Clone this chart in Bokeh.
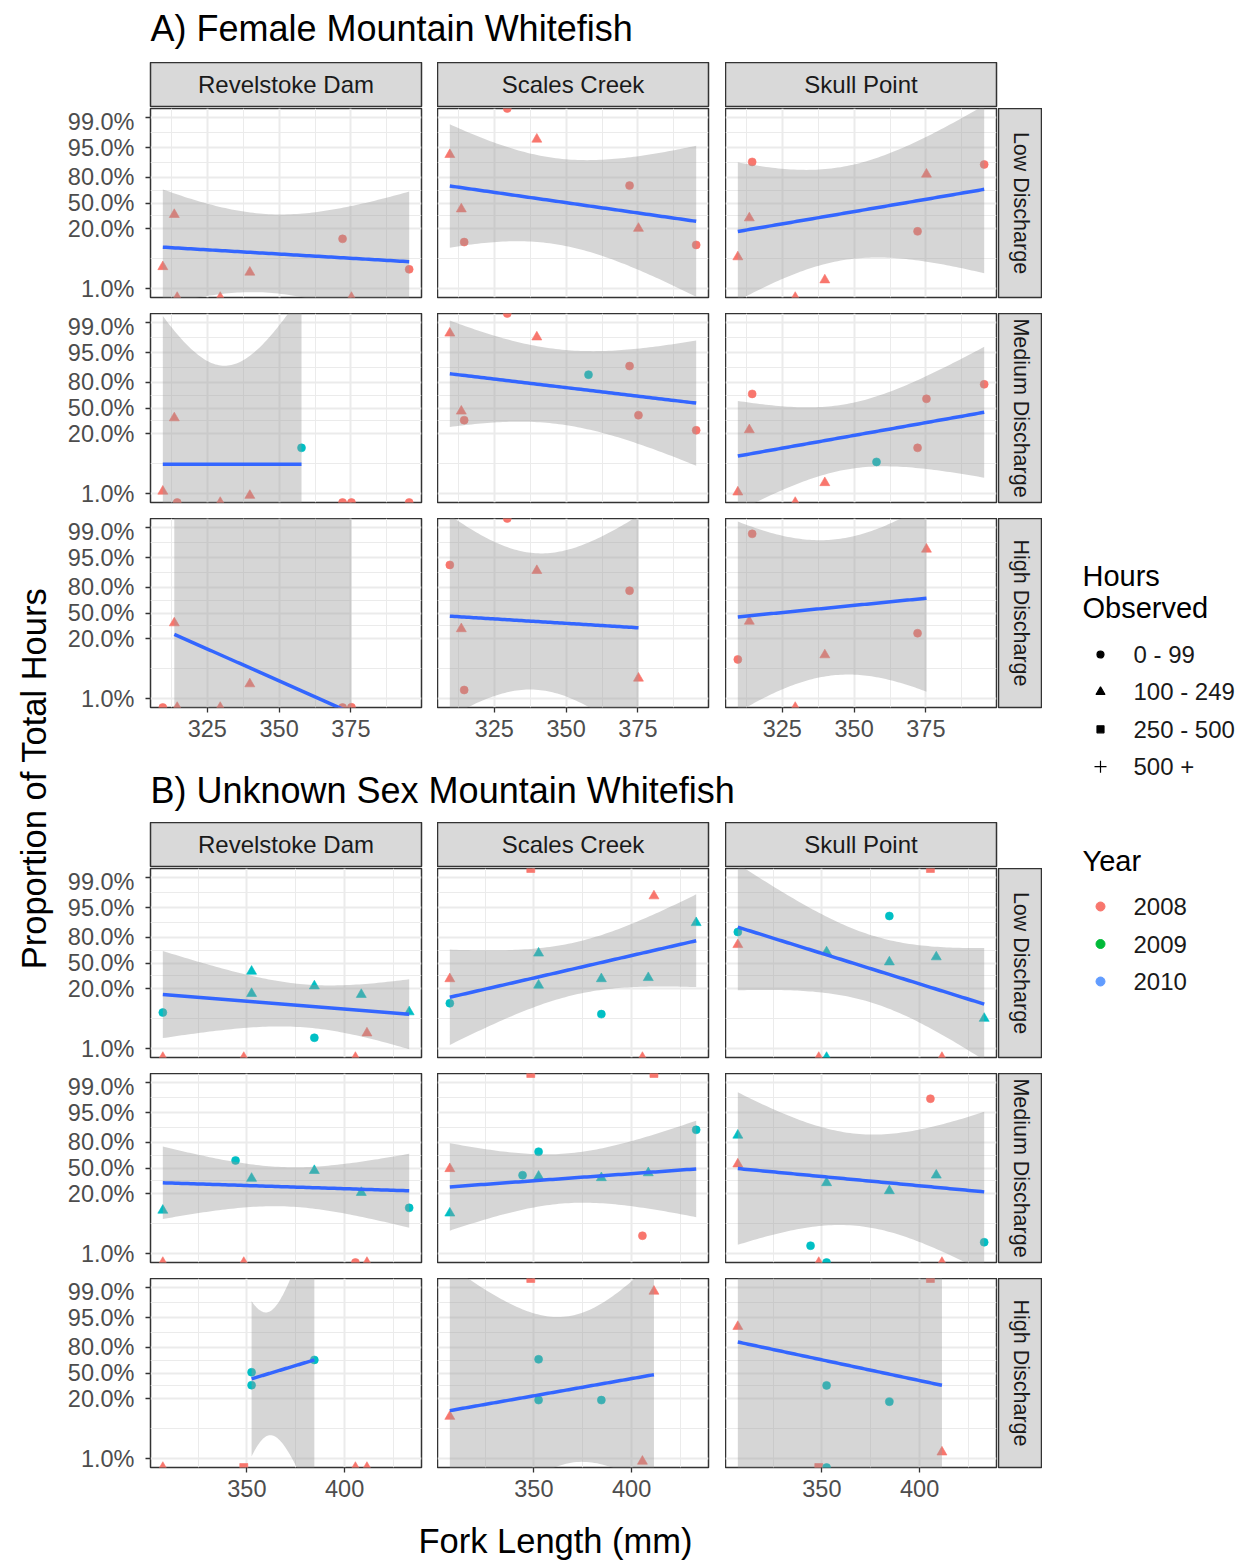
import numpy as np
from bokeh.plotting import figure
from bokeh.layouts import row, column
from bokeh.models import (Range1d, FixedTicker, Grid, LinearAxis,
                          CustomJSTickFormatter, ColumnDataSource)
from bokeh.core.properties import value
from bokeh.embed import file_html
from bokeh.resources import INLINE

FONT = "Liberation Sans"

# ---------------------------------------------------------------- labels
sites = ["Revelstoke Dam", "Scales Creek", "Skull Point"]
discharges = ["Low Discharge", "Medium Discharge", "High Discharge"]
y_breaks = [0.01, 0.20, 0.50, 0.80, 0.95, 0.99]
y_limits = [0.01, 0.99]
x_breaks_female = [325, 350, 375]
x_breaks_unknown = [350, 400]

H1, H2, H3, H4 = "0 - 99", "100 - 249", "250 - 500", "500 +"
hours_levels = [H1, H2, H3, H4]
hours_markers = ["circle", "triangle", "square", "cross"]
year_levels = ["2008", "2009", "2010"]
year_colors = ["#F8766D", "#00BA38", "#619CFF"]
Y8, Y10 = "2008", "2010"
point_colors = {"2008": "#F8766D", "2010": "#00BFC4"}

# ---------------------------------------------------------------- female fish
# fit = fitted proportion at the smallest / largest fork length,
# band = half-width of the confidence band (logit units) at start, narrowest, end
f_low_rev = dict(
    fl=[309.5, 313.5, 339.8, 372.1, 395.3, 314.5, 329.5, 375.2],
    prop=[0.032, 0.35, 0.024, 0.128, 0.028, 0.0, 0.0, 0.0],
    hours=[H2, H2, H2, H1, H1, H2, H2, H2],
    year=[Y8] * 8,
    fit=[0.086, 0.0415], band=[3.09, 2.10, 3.75])
f_low_sca = dict(
    fl=[329.5, 339.8, 309.5, 372.1, 313.5, 375.2, 314.5, 395.3],
    prop=[1.0, 0.968, 0.930, 0.717, 0.42, 0.204, 0.11, 0.096],
    hours=[H1, H2, H2, H1, H2, H2, H1, H1],
    year=[Y8] * 8,
    fit=[0.713, 0.273], band=[3.3, 2.3, 4.04])
f_low_sku = dict(
    fl=[314.5, 395.3, 375.2, 313.5, 372.1, 309.5, 339.8, 329.5],
    prop=[0.90, 0.887, 0.823, 0.31, 0.18, 0.053, 0.016, 0.0],
    hours=[H1, H1, H2, H2, H1, H2, H2, H2],
    year=[Y8] * 8,
    fit=[0.179, 0.675], band=[3.7, 2.5, 4.49])

f_med_rev = dict(
    fl=[309.5, 313.5, 357.8, 339.8, 314.5, 329.5, 372.1, 375.2, 395.3],
    prop=[0.0115, 0.37, 0.106, 0.0092, 0.0, 0.0, 0.0, 0.0, 0.0],
    hours=[H2, H2, H1, H2, H1, H2, H1, H1, H1],
    year=[Y8, Y8, Y10, Y8, Y8, Y8, Y8, Y8, Y8],
    fit=[0.047, 0.047], band=[7.93, 5.27, 9.07])
f_med_sca = dict(
    fl=[329.5, 309.5, 339.8, 372.1, 357.8, 313.5, 314.5, 375.2, 395.3],
    prop=[1.0, 0.982, 0.978, 0.904, 0.856, 0.457, 0.343, 0.405, 0.233],
    hours=[H1, H2, H2, H1, H1, H2, H1, H1, H1],
    year=[Y8, Y8, Y8, Y8, Y10, Y8, Y8, Y8, Y8],
    fit=[0.862, 0.565], band=[2.85, 2.0, 3.35])
f_med_sku = dict(
    fl=[314.5, 395.3, 375.2, 313.5, 372.1, 357.8, 339.8, 309.5, 329.5],
    prop=[0.68, 0.78, 0.62, 0.237, 0.106, 0.053, 0.018, 0.011, 0.0],
    hours=[H1, H1, H1, H2, H1, H1, H2, H2, H2],
    year=[Y8, Y8, Y8, Y8, Y8, Y10, Y8, Y8, Y8],
    fit=[0.071, 0.443], band=[2.95, 1.75, 3.5])

f_high_rev = dict(
    fl=[313.5, 339.8, 375.2, 309.5, 314.5, 329.5, 372.1],
    prop=[0.37, 0.022, 0.0064, 0.0, 0.0, 0.0, 0.0],
    hours=[H2, H2, H1, H1, H2, H2, H1],
    year=[Y8] * 7,
    fit=[0.242, 0.00473], band=[10.0, 9.0, 12.0])
f_high_sca = dict(
    fl=[329.5, 309.5, 339.8, 372.1, 313.5, 375.2, 314.5],
    prop=[1.0, 0.929, 0.906, 0.767, 0.30, 0.0296, 0.016],
    hours=[H1, H1, H2, H1, H2, H2, H1],
    year=[Y8] * 7,
    fit=[0.4576, 0.312], band=[5.4, 3.65, 6.0])
f_high_sku = dict(
    fl=[314.5, 375.2, 313.5, 372.1, 339.8, 309.5, 329.5],
    prop=[0.9857, 0.968, 0.39, 0.253, 0.096, 0.077, 0.0],
    hours=[H1, H2, H2, H1, H2, H1, H2],
    year=[Y8] * 7,
    fit=[0.4477, 0.688], band=[5.1, 3.63, 5.0])

# ---------------------------------------------------------------- unknown-sex fish
u_low_rev = dict(
    fl=[307.0, 352.4, 352.4, 384.5, 408.5, 433.0, 384.5, 411.4, 307.0, 348.4, 405.5],
    prop=[0.066, 0.39, 0.163, 0.226, 0.156, 0.068, 0.018, 0.023, 0.0, 0.0, 0.0],
    hours=[H1, H2, H2, H2, H2, H2, H1, H2, H2, H2, H2],
    year=[Y10] * 7 + [Y8] * 4,
    fit=[0.156, 0.0607], band=[2.33, 1.15, 1.87])
u_low_sca = dict(
    fl=[348.4, 411.4, 433.0, 352.4, 307.0, 352.4, 384.5, 408.5, 307.0, 384.5, 405.5],
    prop=[1.0, 0.973, 0.896, 0.628, 0.30, 0.233, 0.30, 0.313, 0.104, 0.061, 0.0],
    hours=[H3, H2, H2, H2, H2, H2, H2, H2, H1, H1, H2],
    year=[Y8, Y8, Y10, Y10, Y8, Y10, Y10, Y10, Y10, Y10, Y8],
    fit=[0.138, 0.767], band=[2.55, 1.4, 2.48])
u_low_sku = dict(
    fl=[405.5, 384.5, 307.0, 307.0, 352.4, 384.5, 408.5, 433.0, 348.4, 352.4, 411.4],
    prop=[1.0, 0.925, 0.84, 0.727, 0.643, 0.513, 0.58, 0.049, 0.0, 0.0, 0.0],
    hours=[H3, H1, H1, H2, H2, H2, H2, H2, H2, H2, H2],
    year=[Y8, Y10, Y10, Y8, Y10, Y10, Y10, Y10, Y8, Y10, Y8],
    fit=[0.872, 0.0998], band=[3.38, 1.8, 3.0])

u_med_rev = dict(
    fl=[344.2, 352.4, 384.5, 408.5, 307.0, 433.0, 307.0, 348.4, 405.5, 411.4],
    prop=[0.599, 0.364, 0.465, 0.212, 0.094, 0.106, 0.0, 0.0, 0.0, 0.0],
    hours=[H1, H2, H2, H2, H2, H1, H2, H2, H1, H2],
    year=[Y10] * 6 + [Y8] * 4,
    fit=[0.312, 0.228], band=[1.94, 1.05, 1.98])
u_med_sca = dict(
    fl=[348.4, 411.4, 433.0, 352.4, 307.0, 344.2, 352.4, 384.5, 408.5, 307.0, 405.5],
    prop=[1.0, 1.0, 0.885, 0.705, 0.49, 0.405, 0.39, 0.372, 0.435, 0.082, 0.026],
    hours=[H3, H3, H1, H1, H2, H1, H2, H2, H2, H2, H1],
    year=[Y8, Y8, Y10, Y10, Y8, Y10, Y10, Y10, Y10, Y10, Y8],
    fit=[0.267, 0.4875], band=[2.34, 1.33, 2.58])
u_med_sku = dict(
    fl=[405.5, 307.0, 307.0, 352.4, 384.5, 408.5, 344.2, 433.0, 348.4, 352.4, 411.4],
    prop=[0.976, 0.852, 0.552, 0.312, 0.228, 0.405, 0.0154, 0.0185, 0.0, 0.0, 0.0],
    hours=[H1, H2, H2, H2, H2, H2, H1, H1, H2, H1, H2],
    year=[Y8, Y10, Y8, Y10, Y10, Y10, Y10, Y10, Y8, Y10, Y8],
    fit=[0.4925, 0.218], band=[4.08, 2.46, 4.28])

u_high_rev = dict(
    fl=[352.4, 352.4, 384.5, 307.0, 348.4, 405.5, 411.4],
    prop=[0.51, 0.343, 0.668, 0.0, 0.0, 0.0, 0.0],
    hours=[H1, H1, H1, H2, H3, H2, H2],
    year=[Y10, Y10, Y10, Y8, Y8, Y8, Y8],
    fit=[0.423, 0.668], band=[4.15, 3.3, 7.76])
u_high_sca = dict(
    fl=[348.4, 411.4, 352.4, 352.4, 384.5, 307.0, 405.5],
    prop=[1.0, 0.9875, 0.675, 0.19, 0.19, 0.089, 0.0088],
    hours=[H3, H2, H1, H1, H1, H2, H2],
    year=[Y8, Y8, Y10, Y10, Y10, Y8, Y8],
    fit=[0.118, 0.4775], band=[7.75, 3.93, 6.1])
u_high_sku = dict(
    fl=[405.5, 307.0, 352.4, 384.5, 411.4, 348.4, 352.4],
    prop=[1.0, 0.923, 0.34, 0.177, 0.0143, 0.0, 0.0],
    hours=[H3, H2, H1, H1, H2, H3, H1],
    year=[Y8, Y8, Y10, Y10, Y8, Y8, Y10],
    fit=[0.84, 0.341], band=[8.0, 7.0, 8.0])

female = [[f_low_rev, f_low_sca, f_low_sku],
          [f_med_rev, f_med_sca, f_med_sku],
          [f_high_rev, f_high_sca, f_high_sku]]
unknown = [[u_low_rev, u_low_sca, u_low_sku],
           [u_med_rev, u_med_sca, u_med_sku],
           [u_high_rev, u_high_sca, u_high_sku]]


# ---------------------------------------------------------------- helpers
def logit(p):
    p = np.asarray(p, float)
    with np.errstate(divide="ignore"):
        return np.log(p) - np.log1p(-p)


def expand(lo, hi, mult=0.05):
    d = (hi - lo) * mult
    return lo - d, hi + d


def minor_breaks(b):
    b = np.asarray(b, float)
    step = b[1] - b[0]
    ext = np.concatenate([[b[0] - step], b, [b[-1] + step]])
    return [float(v) for v in (ext[:-1] + ext[1:]) / 2]


Y_LO, Y_HI = expand(*logit(y_limits))
y_major = [float(v) for v in logit(y_breaks)]
marker_of = dict(zip(hours_levels, hours_markers))
size_of = {"circle": 8, "triangle": 10, "square": 8, "cross": 10}

# column geometry: [figure width, left border, right border]
COL_W = [375, 288, 273]
COL_L = [88, 0, 0]
COL_R = [16, 17, 2]
RSTRIP_W = 44
FRAME_H = 189
MAIN_W = sum(COL_W) + RSTRIP_W


def bare(width, height, xr, yr, **kw):
    opts = dict(width=width, height=height, x_range=xr, y_range=yr,
                x_axis_type=None, y_axis_type=None, toolbar_location=None,
                output_backend="svg", min_border_left=0, min_border_right=0,
                min_border_top=0, min_border_bottom=0,
                outline_line_color=None, border_fill_color="white",
                background_fill_color="white")
    opts.update(kw)
    return figure(**opts)


def style_axis(ax):
    ax.axis_line_color = None
    ax.major_tick_line_color = "#333333"
    ax.major_tick_line_width = 1.3
    ax.major_tick_out = 5
    ax.major_tick_in = 0
    ax.minor_tick_line_color = None
    ax.major_label_text_color = "#4D4D4D"
    ax.major_label_text_font = FONT
    ax.major_label_text_font_size = "23.5px"


def panel(d, col, bottom, xr, x_breaks, show_y, show_x):
    p = bare(COL_W[col], FRAME_H + bottom, Range1d(*xr), Range1d(Y_LO, Y_HI),
             min_border_left=COL_L[col], min_border_right=COL_R[col],
             min_border_bottom=bottom,
             outline_line_color="#333333", outline_line_width=1.5)
    xt = FixedTicker(ticks=list(x_breaks), minor_ticks=minor_breaks(x_breaks))
    yt = FixedTicker(ticks=y_major, minor_ticks=minor_breaks(y_major))
    for dim, tk in ((0, xt), (1, yt)):
        p.add_layout(Grid(dimension=dim, ticker=tk,
                          grid_line_color="#EBEBEB", grid_line_width=2,
                          minor_grid_line_color="#EBEBEB",
                          minor_grid_line_width=1))
    if show_y:
        ax = LinearAxis(ticker=yt, formatter=CustomJSTickFormatter(
            code="return (100 / (1 + Math.exp(-tick))).toFixed(1) + '%';"))
        style_axis(ax)
        ax.major_label_standoff = 11
        p.add_layout(ax, "left")
    if show_x:
        ax = LinearAxis(ticker=xt)
        style_axis(ax)
        ax.major_label_standoff = 7
        p.add_layout(ax, "below")

    fl = np.asarray(d["fl"], float)
    lp = logit(d["prop"])
    markers = [marker_of[h] for h in d["hours"]]
    src = ColumnDataSource(dict(
        x=fl, y=np.clip(lp, Y_LO, Y_HI), marker=markers,
        size=[size_of[m] for m in markers],
        color=[point_colors[y] for y in d["year"]]))
    p.scatter("x", "y", source=src, marker="marker", size="size",
              fill_color="color", line_color="color", line_width=0.6)

    # fitted logistic trend with its confidence band (straight on the logit axis)
    fin = fl[np.isfinite(lp)]
    x0, x1 = fin.min(), fin.max()
    xs = np.linspace(x0, x1, 80)
    l0, l1 = logit(d["fit"])
    fit = l0 + (l1 - l0) * (xs - x0) / (x1 - x0)
    h0, hm, h1 = d["band"]
    a = np.sqrt(max(h0 ** 2 - hm ** 2, 0.0))
    b = np.sqrt(max(h1 ** 2 - hm ** 2, 0.0))
    xc = (a * x1 + b * x0) / (a + b)
    k = a ** 2 / (x0 - xc) ** 2 if abs(x0 - xc) > 1e-9 else b ** 2 / (x1 - xc) ** 2
    half = np.sqrt(hm ** 2 + k * (xs - xc) ** 2)
    p.varea(x=xs, y1=fit - half, y2=fit + half, fill_color="#999999",
            fill_alpha=0.4)
    p.line(xs, fit, line_color="#3366FF", line_width=3.5)
    return p


def top_strip(label, col):
    s = bare(COL_W[col], 46, Range1d(0, 1), Range1d(0, 1),
             min_border_left=COL_L[col], min_border_right=COL_R[col],
             min_border_bottom=2, background_fill_color="#D9D9D9",
             outline_line_color="#333333", outline_line_width=1.5)
    s.text(x=[0.5], y=[0.5], text=[label], text_align="center",
           text_baseline="middle", text_font=value(FONT),
           text_font_size="24px", text_color="#1A1A1A")
    return s


def side_strip(label, bottom):
    s = bare(RSTRIP_W, FRAME_H + bottom, Range1d(0, 1), Range1d(0, 1),
             min_border_bottom=bottom, background_fill_color="#D9D9D9",
             outline_line_color="#333333", outline_line_width=1.5)
    s.text(x=[0.5], y=[0.5], text=[label], angle=-np.pi / 2,
           text_align="center", text_baseline="middle", text_font=value(FONT),
           text_font_size="21.5px", text_color="#1A1A1A")
    return s


def title_fig(text, height, centre):
    t = bare(MAIN_W, height, Range1d(0, MAIN_W), Range1d(height, 0))
    t.text(x=[COL_L[0]], y=[centre], text=[text], text_align="left",
           text_baseline="middle", text_font=value(FONT),
           text_font_size="36px", text_color="black")
    return t


def block(panels, title, title_h, title_mid, x_breaks, axis_bottom):
    fl_all = np.concatenate([np.asarray(d["fl"], float) for r in panels for d in r])
    xr = expand(fl_all.min(), fl_all.max())
    kids = [title_fig(title, title_h, title_mid),
            row(*[top_strip(sites[c], c) for c in range(3)])]
    for r in range(3):
        bottom = axis_bottom if r == 2 else 16
        figs = [panel(panels[r][c], c, bottom, xr, x_breaks,
                      show_y=(c == 0), show_x=(r == 2)) for c in range(3)]
        figs.append(side_strip(discharges[r], bottom))
        kids.append(row(*figs))
    return kids


main_children = []
main_children += block(female, "A) Female Mountain Whitefish", 62, 28,
                       x_breaks_female, 63)
main_children += block(unknown, "B) Unknown Sex Mountain Whitefish", 52, 20,
                       x_breaks_unknown, 48)

xlab = bare(MAIN_W, 45, Range1d(0, MAIN_W), Range1d(45, 0))
xlab.text(x=[493], y=[25], text=["Fork Length (mm)"], text_align="center",
          text_baseline="middle", text_font=value(FONT),
          text_font_size="34.5px", text_color="black")
main_children.append(xlab)
main = column(*main_children)

TOTAL_H = 1560
ylab = bare(62, TOTAL_H, Range1d(0, 62), Range1d(TOTAL_H, 0))
ylab.text(x=[33], y=[778], text=["Proportion of Total Hours"], angle=np.pi / 2,
          text_align="center", text_baseline="middle", text_font=value(FONT),
          text_font_size="34.5px", text_color="black")

# ---------------------------------------------------------------- legends
LEG_W = 201
leg = bare(LEG_W, TOTAL_H, Range1d(0, LEG_W), Range1d(TOTAL_H, 0))
leg.text(x=[40, 40, 40], y=[575, 607, 860], text=["Hours", "Observed", "Year"],
         text_baseline="middle", text_font=value(FONT),
         text_font_size="29px", text_color="black")
hy = 654 + 37.4 * np.arange(len(hours_levels))
hsrc = ColumnDataSource(dict(x=[58] * 4, y=hy, marker=hours_markers,
                             size=[7, 9, 7, 12]))
leg.scatter("x", "y", source=hsrc, marker="marker", size="size",
            fill_color="black", line_color="black", line_width=1.2)
leg.text(x=[91] * 4, y=hy, text=hours_levels, text_baseline="middle",
         text_font=value(FONT), text_font_size="24px", text_color="#1A1A1A")
yy = 906 + 37.5 * np.arange(len(year_levels))
ysrc = ColumnDataSource(dict(x=[58] * 3, y=yy, color=year_colors))
leg.scatter("x", "y", source=ysrc, marker="circle", size=9,
            fill_color="color", line_color="color")
leg.text(x=[91] * 3, y=yy, text=year_levels, text_baseline="middle",
         text_font=value(FONT), text_font_size="24px", text_color="#1A1A1A")

layout = row(ylab, main, leg)
open("out.html", "w").write(file_html(layout, INLINE))
